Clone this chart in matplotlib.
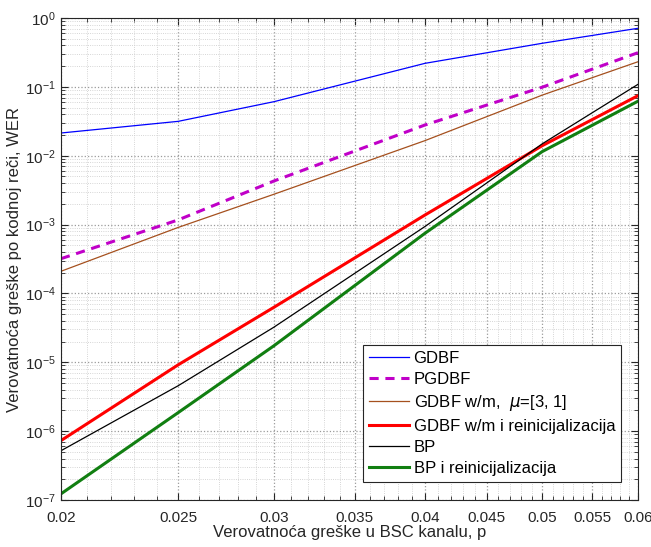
import numpy as np
import matplotlib
matplotlib.use("Agg")
import matplotlib.pyplot as plt
from matplotlib.ticker import FixedLocator, MultipleLocator, LogLocator, NullFormatter

plt.rcParams["font.family"] = ["Liberation Sans", "DejaVu Sans"]
plt.rcParams["axes.unicode_minus"] = False
plt.rcParams["mathtext.default"] = "regular"

p = [0.02, 0.025, 0.03, 0.04, 0.05, 0.06]
wer_gdbf = [0.0214, 0.0316, 0.061, 0.22, 0.43, 0.71]
wer_pgdbf = [3.2e-4, 1.17e-3, 4.3e-3, 0.028, 0.099, 0.314]
wer_gdbf_wm = [2.1e-4, 9.1e-4, 2.76e-3, 0.0166, 0.076, 0.232]
wer_gdbf_wm_re = [7.3e-7, 9.2e-6, 6.3e-5, 1.38e-3, 0.014, 0.0746]
wer_bp = [5.2e-7, 4.57e-6, 3.24e-5, 9.4e-4, 0.0149, 0.109]
wer_bp_re = [1.23e-7, 1.86e-6, 1.74e-5, 7.5e-4, 0.0115, 0.062]

x_ticks = [0.02, 0.025, 0.03, 0.035, 0.04, 0.045, 0.05, 0.055, 0.06]
x_labels = ["0.02", "0.025", "0.03", "0.035", "0.04", "0.045", "0.05", "0.055", "0.06"]

fig = plt.figure(figsize=(6.51, 5.47), dpi=100)
ax = fig.add_axes([0.0937, 0.0859, 0.8863, 0.8811])

ax.plot(p, wer_gdbf, color="#0000ff", lw=0.9, label="GDBF")
ax.plot(p, wer_pgdbf, color="#c000c8", lw=2.2, ls=(0, (3, 2.2)), label="PGDBF")
ax.plot(p, wer_gdbf_wm, color="#a5501e", lw=0.9, label="GDBF w/m,  $\\mathit{\\mu}$=[3, 1]")
ax.plot(p, wer_gdbf_wm_re, color="#ff0000", lw=2.2, label="GDBF w/m i reinicijalizacija")
ax.plot(p, wer_bp, color="#000000", lw=0.9, label="BP")
ax.plot(p, wer_bp_re, color="#117f11", lw=2.2, label="BP i reinicijalizacija")

ax.set_xscale("log")
ax.set_yscale("log")
ax.set_xlim(0.02, 0.06)
ax.set_ylim(1e-7, 1)

ax.xaxis.set_major_locator(FixedLocator(x_ticks))
ax.set_xticklabels(x_labels)
ax.xaxis.set_minor_locator(MultipleLocator(0.001))
ax.xaxis.set_minor_formatter(NullFormatter())
ax.yaxis.set_major_locator(LogLocator(base=10, numticks=20))
ax.yaxis.set_minor_locator(LogLocator(base=10, subs=np.arange(2, 10), numticks=20))
ax.yaxis.set_minor_formatter(NullFormatter())

ax.tick_params(which="both", direction="in", top=True, right=True, labelsize=11, colors="#262626")
ax.tick_params(which="major", length=5)
ax.tick_params(which="minor", length=3)
ax.tick_params(axis="x", which="both", pad=8)
ax.tick_params(axis="y", which="both", pad=4)

ax.grid(which="major", color="#9a9a9a", ls=":", lw=0.9)
ax.grid(which="minor", color="#c8c8c8", ls=":", lw=0.6)

for s in ax.spines.values():
    s.set_color("#262626")
    s.set_linewidth(0.8)

ax.set_xlabel("Verovatnoća greške u BSC kanalu, p", fontsize=12, color="#262626", labelpad=0)
ax.set_ylabel("Verovatnoća greške po kodnoj reči, WER", fontsize=12, color="#262626", labelpad=2)

leg = ax.legend(loc="lower right", bbox_to_anchor=(0.9705, 0.0373), fontsize=12, fancybox=False,
                edgecolor="#262626", framealpha=1, handlelength=2.45, handletextpad=0.25,
                borderpad=0.35, labelspacing=0.36, borderaxespad=0)
leg.get_frame().set_linewidth(0.8)

fig.savefig("out.png", dpi=100)
